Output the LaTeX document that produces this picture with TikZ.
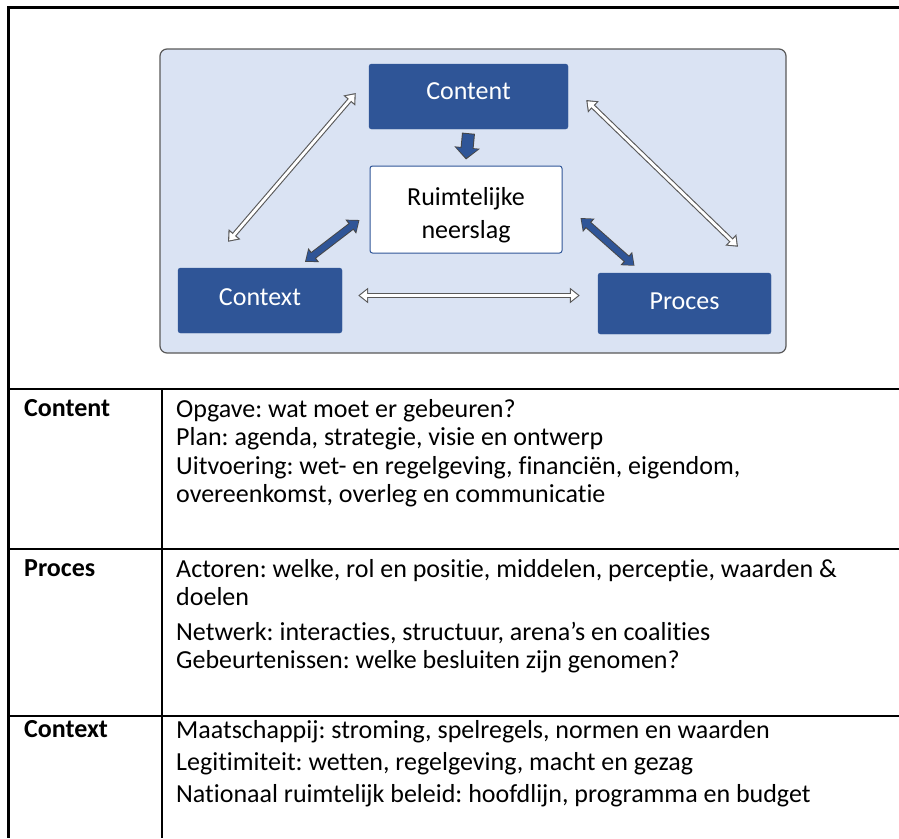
\documentclass[tikz,border=0pt]{standalone}
\usepackage{fontspec}
\setmainfont{Carlito}[Ligatures=NoCommon]
\usepackage{tikz}
\usetikzlibrary{arrows.meta,positioning,calc}
\definecolor{boxblue}{HTML}{2F5597}
\definecolor{panelblue}{HTML}{DAE3F3}
\definecolor{rimgray}{HTML}{595959}
\frenchspacing
\tikzset{
  panel/.style={
    draw=rimgray,
    fill=panelblue,
    line width=1.2pt,
    rounded corners=7pt
  },
  blue box/.style={
    draw=boxblue,
    fill=boxblue,
    rounded corners=2.5pt,
    text=white,
    inner sep=0pt,
    font=\fontsize{26}{33}\selectfont
  },
  white box/.style={
    blue box,
    fill=white,
    text=black,
    line width=1pt,
    align=center
  },
  hollow arrow/.style={
    line width=5pt,
    draw=rimgray,
    {Triangle[length=10pt,width=15pt]}-{Triangle[length=10pt,width=15pt]},
    postaction={
      draw=white,
      line width=2.8pt,
      shorten <=1.8pt, shorten >=1.8pt,
      {Triangle[length=7pt,width=10.5pt]}-{Triangle[length=7pt,width=10.5pt]}
    }
  },
  blue arrow/.style={
    line width=8pt,
    draw=rimgray!80!black,
    {Triangle[length=11pt,width=17pt]}-{Triangle[length=11pt,width=17pt]},
    postaction={
      draw=boxblue,
      line width=6pt,
      shorten <=1.3pt, shorten >=1.3pt,
      {Triangle[length=8.5pt,width=13.5pt]}-{Triangle[length=8.5pt,width=13.5pt]}
    }
  },
  down arrow/.style={
    line width=13pt,
    draw=rimgray!80!black,
    -{Triangle[length=12pt,width=25pt]},
    postaction={
      draw=boxblue,
      line width=11pt,
      shorten <=1pt, shorten >=1.6pt,
      -{Triangle[length=9.6pt,width=21pt]}
    }
  },
  rule/.style={line width=2.2pt},
  cell/.style={
    anchor=north west,
    inner sep=0pt,
    align=left,
    font=\fontsize{26}{28.5}\selectfont
  }
}

\begin{document}
\begin{tikzpicture}[x=1pt, y=-1pt]
 \useasboundingbox (0,0) rectangle (899,838);
 % table rules
 \draw[rule] (899,7.5) -- (8.5,7.5) -- (8.5,838);
 \draw[rule] (8.5,389) -- (899,389);
 \draw[rule] (8.5,549) -- (899,549);
 \draw[rule] (8.5,716) -- (899,716);
 \draw[rule] (162,389) -- (162,838);

 % diagram
 \node[panel, minimum width=626, minimum height=304] (frame) at (473,201) {};
 \node[blue box, minimum width=199, minimum height=65, text depth=10pt] (content) at (468.5,96.5) {Content};
 \node[white box, minimum width=192, minimum height=87] (ruimte) at (466,209.5) {\rule{0pt}{29pt}Ruimtelijke\\neerslag};
 \node[blue box, minimum width=164, minimum height=65, text depth=6pt] (context) at (260,300.5) {Context};
 \node[blue box, minimum width=173, minimum height=61, text depth=4pt] (proces) at (684.5,303.5) {Proces};

 \draw[down arrow] (content.south) ++(0,4) coordinate (down_a) (down_a) -- ($(ruimte.north)+(0,-6)$);
 \draw[hollow arrow] ($(context.north)+(-32,-26)$) -- ($(content.west)+(-13,-3.5)$);
 \draw[hollow arrow] ($(content.east)+(18,3.5)$) -- ($(proces.north)+(53.5,-26)$);
 \draw[hollow arrow] ($(context.east)+(16,-5)$) -- ($(proces.west)+(-18,-8)$);
 \draw[blue arrow] ($(ruimte.west)+(-10,10.5)$) -- ($(context.north)+(45,-6)$);
 \draw[blue arrow] ($(ruimte.east)+(18,8.5)$) -- ($(proces.north)+(-50,-7)$);

 % table text
 \node[cell] (lab_content) at (24,399) {\bfseries Content};
 \node[cell] (txt_content) at (176,399) {Opgave: wat moet er gebeuren?\\
   Plan: agenda, strategie, visie en ontwerp\\
   Uitvoering: wet- en regelgeving, financiën, eigendom,\\
   overeenkomst, overleg en communicatie};
 \node[cell] (lab_proces) at (24,559) {\bfseries Proces};
 \node[cell] (txt_proces) at (176,559) {Actoren: welke, rol en positie, middelen, perceptie, waarden \&\\
   doelen\\[6pt]
   Netwerk: interacties, structuur, arena’s en coalities\\
   Gebeurtenissen: welke besluiten zijn genomen?};
 \node[cell] (lab_context) at (24,720) {\bfseries Context};
 \node[cell] (txt_context) at (176,720) {Maatschappij: stroming, spelregels, normen en waarden\\[3.5pt]
   Legitimiteit: wetten, regelgeving, macht en gezag\\[3.5pt]
   Nationaal ruimtelijk beleid: hoofdlijn, programma en budget};
\end{tikzpicture}
\end{document}
